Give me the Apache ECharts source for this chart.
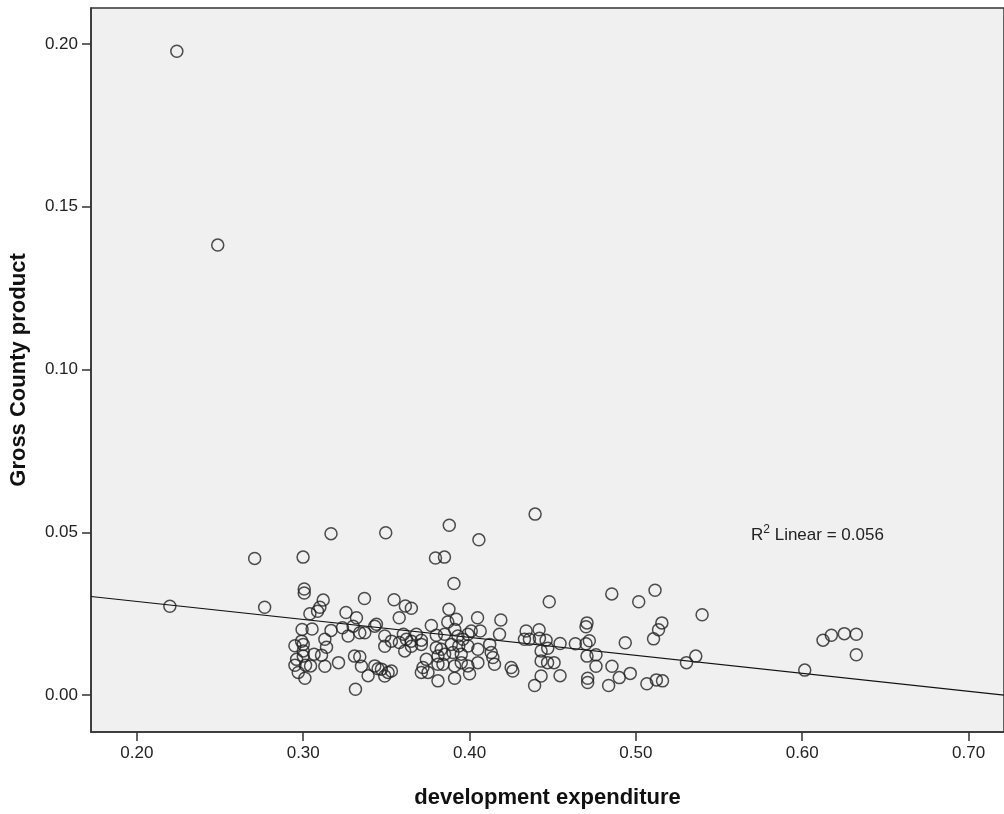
<!DOCTYPE html>
<html>
<head>
<meta charset="utf-8">
<script src="https://cdn.jsdelivr.net/npm/echarts@6/dist/echarts.min.js"></script>
<style>
html,body{margin:0;padding:0;background:#fff;}
#chart{width:1004px;height:814px;}
</style>
</head>
<body>
<div id="chart"></div>
<script>
// development expenditure (x) and Gross County product (y)
const devExp = [
0.224,0.2486,0.2708,0.2198,0.2768,0.2999,0.3167,0.3496,0.3878,0.4056,0.3795,0.3849,0.4394,0.3906,0.4855,0.5017,0.5115,0.5398,0.4479,0.6015,0.6125,0.6175,0.6253,0.6325,0.6325,
0.3006,0.3006,0.3368,0.3120,0.3100,0.3086,0.3040,0.3257,0.3320,0.2993,0.3053,0.3167,0.3236,0.3300,0.3270,0.3340,0.3370,0.3430,0.2950,0.3000,0.2990,0.3000,0.3130,0.3140,0.3065,0.3110,0.3000,0.2950,0.3014,0.3044,0.3130,0.3212,0.2970,0.3010,0.3308,0.3340,0.3350,0.3390,0.3430,0.3450,0.3314,0.2960,
0.3546,0.3614,0.3650,0.3577,0.3876,0.3440,0.3770,0.3869,0.3920,0.3911,0.3490,0.3490,0.3530,0.3578,0.3602,0.3620,0.3650,0.3680,0.3710,0.3610,0.3650,0.3710,0.3800,0.3850,0.3930,0.3960,0.3800,0.3830,0.3890,0.3935,0.3990,0.3990,0.3810,0.3850,0.3900,0.3950,0.3740,0.3470,0.3510,0.3490,0.3530,0.3710,0.3750,0.3810,0.3840,0.3910,0.3950,0.3990,0.3810,0.3910,0.3720,0.4000,
0.4048,0.4188,0.4010,0.4064,0.4180,0.4340,0.4418,0.4330,0.4360,0.4420,0.4460,0.4544,0.4050,0.4121,0.4130,0.4140,0.4050,0.4150,0.4430,0.4470,0.4430,0.4469,0.4508,0.4250,0.4260,0.4430,0.4544,0.4391,
0.4636,0.4700,0.4720,0.4936,0.4706,0.4700,0.5156,0.5136,0.5106,0.4706,0.4760,0.4760,0.4856,0.4900,0.4966,0.4710,0.4710,0.4836,0.5066,0.5123,0.5160,0.5304,0.5360
];
const grossCounty = [
0.1977,0.1382,0.0420,0.0273,0.0270,0.0424,0.0496,0.0499,0.0522,0.0477,0.0421,0.0424,0.0556,0.0343,0.0311,0.0287,0.0322,0.0247,0.0287,0.0077,0.0169,0.0184,0.0189,0.0187,0.0124,
0.0326,0.0314,0.0297,0.0292,0.0270,0.0258,0.0250,0.0254,0.0238,0.0202,0.0203,0.0199,0.0207,0.0212,0.0182,0.0192,0.0192,0.0212,0.0152,0.0156,0.0166,0.0136,0.0172,0.0147,0.0126,0.0123,0.0120,0.0092,0.0092,0.0090,0.0089,0.0100,0.0070,0.0052,0.0120,0.0118,0.0089,0.0060,0.0090,0.0081,0.0018,0.0110,
0.0293,0.0274,0.0267,0.0238,0.0264,0.0218,0.0214,0.0225,0.0233,0.0202,0.0182,0.0150,0.0166,0.0162,0.0187,0.0172,0.0166,0.0187,0.0169,0.0136,0.0150,0.0156,0.0184,0.0187,0.0182,0.0172,0.0146,0.0141,0.0156,0.0151,0.0187,0.0151,0.0120,0.0126,0.0131,0.0126,0.0110,0.0080,0.0070,0.0059,0.0074,0.0070,0.0070,0.0095,0.0095,0.0090,0.0100,0.0090,0.0044,0.0052,0.0085,0.0066,
0.0238,0.0231,0.0197,0.0197,0.0187,0.0197,0.0201,0.0172,0.0172,0.0175,0.0169,0.0159,0.0141,0.0156,0.0131,0.0116,0.0100,0.0095,0.0136,0.0144,0.0105,0.0100,0.0100,0.0085,0.0074,0.0059,0.0060,0.0030,
0.0158,0.0158,0.0167,0.0161,0.0222,0.0210,0.0222,0.0201,0.0173,0.0120,0.0124,0.0089,0.0089,0.0054,0.0067,0.0052,0.0039,0.0030,0.0035,0.0047,0.0044,0.0100,0.0120
];
// fitted linear regression line endpoints
const fitX = [0.1724, 0.7213];
const fitY = [0.0303, 0.0000];
// axis ticks
const xTicks = [0.20, 0.30, 0.40, 0.50, 0.60, 0.70];
const yTicks = [0.00, 0.05, 0.10, 0.15, 0.20];
const xRange = [0.1724, 0.7213];
const yRange = [-0.0113, 0.2110];

const points = devExp.map((v, i) => [v, grossCounty[i]]);
const fitLine = fitX.map((v, i) => [v, fitY[i]]);

const FONT = '"Liberation Sans", Arial, sans-serif';
const chart = echarts.init(document.getElementById('chart'), null, {renderer: 'canvas'});
chart.setOption({
  backgroundColor: '#ffffff',
  animation: false,
  grid: {
    left: 88, top: 8, right: -4, bottom: 81,
    show: true, backgroundColor: '#f0f0f0', borderColor: '#333', borderWidth: 1.5
  },
  xAxis: {
    type: 'value', min: xRange[0], max: xRange[1],
    name: 'development expenditure', nameLocation: 'middle', nameGap: 55,
    nameTextStyle: {fontFamily: FONT, fontSize: 22, fontWeight: 'bold', color: '#111'},
    splitLine: {show: false},
    axisLine: {show: true, onZero: false, lineStyle: {color: '#333', width: 1.5}},
    axisTick: {show: true, inside: false, customValues: xTicks, length: 9, lineStyle: {color: '#333', width: 1.5}},
    axisLabel: {customValues: xTicks, margin: 13, fontFamily: FONT, fontSize: 17, color: '#222',
      formatter: v => v.toFixed(2)}
  },
  yAxis: {
    type: 'value', min: yRange[0], max: yRange[1],
    name: 'Gross County product', nameLocation: 'middle', nameGap: 61, nameRotate: 90,
    nameTextStyle: {fontFamily: FONT, fontSize: 22, fontWeight: 'bold', color: '#111'},
    splitLine: {show: false},
    axisLine: {show: true, onZero: false, lineStyle: {color: '#333', width: 1.5}},
    axisTick: {show: true, inside: false, customValues: yTicks, length: 9, lineStyle: {color: '#333', width: 1.5}},
    axisLabel: {customValues: yTicks, margin: 13, fontFamily: FONT, fontSize: 17, color: '#222',
      formatter: v => v.toFixed(2)}
  },
  graphic: [{
    type: 'text', left: 751, top: 524,
    style: {
      text: '{a|R}{s|2}{a| Linear = 0.056}',
      rich: {
        a: {fontFamily: FONT, fontSize: 17, fill: '#222', verticalAlign: 'bottom', lineHeight: 20},
        s: {fontFamily: FONT, fontSize: 12, fill: '#222', verticalAlign: 'top', lineHeight: 12, padding: [0,0,8,0]}
      }
    }
  }],
  series: [
    {
      type: 'line', data: fitLine, symbol: 'none', z: 2,
      lineStyle: {color: '#111', width: 1.2}, silent: true
    },
    {
      type: 'scatter', data: points, symbol: 'circle', symbolSize: 12, z: 3,
      itemStyle: {color: 'transparent', borderColor: '#222', borderWidth: 1.5}
    }
  ]
});
</script>
</body>
</html>
